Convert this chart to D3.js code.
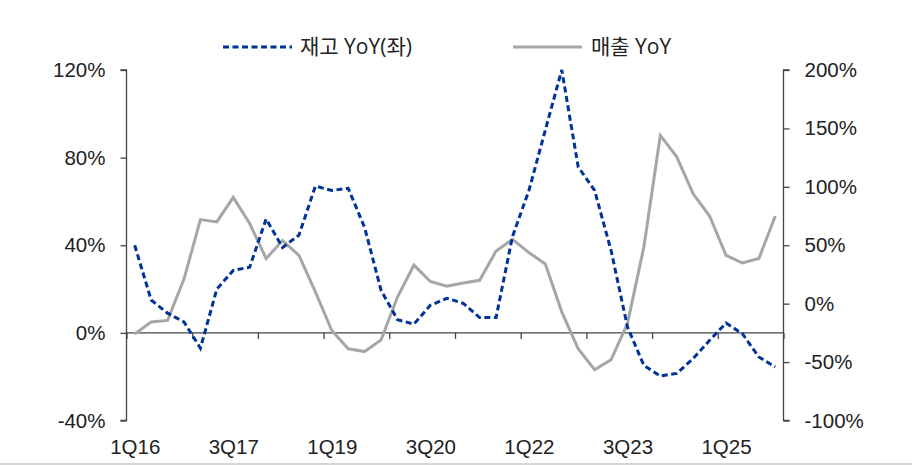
<!DOCTYPE html>
<html>
<head>
<meta charset="utf-8">
<script src="https://cdn.jsdelivr.net/npm/d3@7"></script>
<style>
  body { margin: 0; background: #fff; }
  svg { display: block; font-family: "Open Sans", "Noto Sans CJK KR", sans-serif; }
  .axis text { font-size: 20.5px; fill: #222; }
  .axis path, .axis line { stroke: #444; stroke-width: 1.3; }
  .legend text { font-size: 21px; fill: #222; }
</style>
</head>
<body>
<svg width="912" height="465"></svg>
<script>
const quarters = [
  "1Q16","2Q16","3Q16","4Q16","1Q17","2Q17","3Q17","4Q17",
  "1Q18","2Q18","3Q18","4Q18","1Q19","2Q19","3Q19","4Q19",
  "1Q20","2Q20","3Q20","4Q20","1Q21","2Q21","3Q21","4Q21",
  "1Q22","2Q22","3Q22","4Q22","1Q23","2Q23","3Q23","4Q23",
  "1Q24","2Q24","3Q24","4Q24","1Q25","2Q25","3Q25","4Q25"
]
const xLabels = ["1Q16", "3Q17", "1Q19", "3Q20", "1Q22", "3Q23", "1Q25"]

// 재고 YoY (left axis, %)
const inventory = [40, 15, 9, 5, -7, 20, 28.5, 30, 52, 39,
  44.6, 67, 65, 66, 48, 19.4, 6, 4, 12.6, 15.8,
  13.5, 7, 7, 44, 65, 92.6, 120, 75.8, 65, 37.7,
  2.7, -14.9, -19.7, -18.5, -11.7, -3.4, 4.5, -0.4, -11, -15.6]
// 매출 YoY (right axis, %)
const sales = [-26, -15.7, -14.3, 21, 72, 70, 91, 68.6, 38.6, 54,
  41.4, 10, -23, -38.6, -41, -31, 5.7, 33, 19, 15,
  17.7, 20, 45, 55, 43.7, 34, -7, -38.6, -56.6, -48,
  -17, 48.6, 144, 125.7, 94, 75, 41.4, 34.8, 38.6, 75]

const leftTicks = [-40, 0, 40, 80, 120]
const rightTicks = [-100, -50, 0, 50, 100, 150, 200]

const svg = d3.select("svg")
const plotL = 126.5, plotR = 783.5, plotT = 70, plotB = 420.5

const x = d3.scaleLinear().domain([0, quarters.length]).range([plotL, plotR])
const yL = d3.scaleLinear().domain([-40, 120]).range([plotB, plotT])
const yR = d3.scaleLinear().domain([-100, 200]).range([plotB, plotT])

// left axis
svg.append("g")
  .attr("class", "axis")
  .attr("transform", `translate(${plotL},0)`)
  .call(d3.axisLeft(yL).tickValues(leftTicks).tickSize(6).tickPadding(15).tickFormat(d => d + "%"))
  .call(g => g.select(".domain").attr("d", `M-6,${yL(120)}H0V${yL(-40)}H-6`))

// right axis
svg.append("g")
  .attr("class", "axis")
  .attr("transform", `translate(${plotR},0)`)
  .call(d3.axisRight(yR).tickValues(rightTicks).tickSize(6).tickPadding(15).tickFormat(d => d + "%"))
  .call(g => g.select(".domain").attr("d", `M6,${yR(200)}H0V${yR(-100)}H6`))

// x axis on zero line, ticks every year
svg.append("g")
  .attr("class", "axis")
  .attr("transform", `translate(0,${yL(0)})`)
  .call(d3.axisBottom(x).tickValues(d3.range(0, quarters.length + 1, 4)).tickSize(6).tickFormat(""))
  .call(g => g.select(".domain").attr("d", `M${plotL},0H${plotR}`))

// x labels at bottom
svg.append("g")
  .attr("class", "axis")
  .attr("transform", `translate(0,${plotB})`)
  .call(d3.axisBottom(x)
    .tickValues(xLabels.map(l => quarters.indexOf(l) + 0.5))
    .tickSize(0).tickPadding(19)
    .tickFormat(d => quarters[Math.floor(d)]))
  .call(g => g.select(".domain").remove())

const lineL = d3.line().x((d, i) => x(i + 0.5)).y(d => yL(d))
const lineR = d3.line().x((d, i) => x(i + 0.5)).y(d => yR(d))

svg.append("path")
  .datum(sales)
  .attr("d", lineR)
  .attr("fill", "none")
  .attr("stroke", "#a6a6a6")
  .attr("stroke-width", 3)

svg.append("path")
  .datum(inventory)
  .attr("d", lineL)
  .attr("fill", "none")
  .attr("stroke", "#003399")
  .attr("stroke-width", 3)
  .attr("stroke-dasharray", "6,3.5")

// legend
const legend = svg.append("g").attr("class", "legend")
legend.append("line")
  .attr("x1", 223).attr("x2", 292).attr("y1", 47).attr("y2", 47)
  .attr("stroke", "#003399").attr("stroke-width", 3).attr("stroke-dasharray", "6,3.5")
legend.append("text").attr("x", 300).attr("y", 54).text("재고 YoY(좌)")
legend.append("line")
  .attr("x1", 513).attr("x2", 582).attr("y1", 47).attr("y2", 47)
  .attr("stroke", "#a6a6a6").attr("stroke-width", 3)
legend.append("text").attr("x", 591).attr("y", 54).text("매출 YoY")

svg.append("line")
  .attr("x1", 0).attr("x2", 912).attr("y1", 464).attr("y2", 464)
  .attr("stroke", "#c8c8c8").attr("stroke-width", 1.5)
</script>
</body>
</html>
